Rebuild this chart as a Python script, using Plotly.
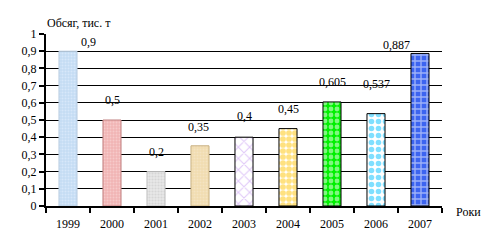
import plotly.graph_objects as go

years = ["1999", "2000", "2001", "2002", "2003", "2004", "2005", "2006", "2007"]
values = [0.9, 0.5, 0.2, 0.35, 0.4, 0.45, 0.605, 0.537, 0.887]
y_ticks = [0, 0.1, 0.2, 0.3, 0.4, 0.5, 0.6, 0.7, 0.8, 0.9, 1]
y_tick_text = ["0", "0,1", "0,2", "0,3", "0,4", "0,5", "0,6", "0,7", "0,8", "0,9", "1"]
y_title = "Обсяг, тис. т"
x_title = "Роки"

# styling (not data)
bg_colors = ["#c4dcf4", "#f0b4b4", "#e8e8e8", "#f0dcb0", "#ffffff", "#ffffff", "#00f000", "#ffffff", "#3c64f0"]
fg_colors = ["#eaf2ff", "#fbe0e0", "#c4c4c4", "#f8ecd4", "#c090f0", "#ffc400", "#ffffff", "#00c0ff", "#ffffff"]
shapes = [".", ".", ".", ".", "x", ".", ".", ".", "+"]
sizes = [3, 3, 3, 3, 8, 6, 6, 7, 6]
solid = [0.35, 0.35, 0.4, 0.35, 0.25, 0.72, 0.5, 0.5, 0.4]
line_cols = ["#b8cce0", "#c08080", "#c0c0c0", "#c8b080", "black", "black", "black", "black", "black"]
lbl_dx = [20, 0, 0, -2, 0, 0, 0, 0, -24]
lbl_dy = [9, 20, 20, 19, 21, 20, 20, 30, 8]

font = "Liberation Serif"

fig = go.Figure()
for i, (yr, v) in enumerate(zip(years, values)):
    fig.add_trace(go.Bar(
        x=[yr], y=[v], width=0.41,
        marker=dict(
            color=bg_colors[i],
            line=dict(color=line_cols[i], width=1),
            pattern=dict(shape=shapes[i], fgcolor=fg_colors[i], bgcolor=bg_colors[i],
                         size=sizes[i], solidity=solid[i], fillmode="overlay"),
        ),
        hoverinfo="skip",
    ))
    # x given as category index so the numeric-looking year is not read as a coordinate
    fig.add_annotation(x=i, y=v, text=str(v).replace(".", ","), showarrow=False,
                       xshift=lbl_dx[i], yshift=lbl_dy[i], yanchor="middle",
                       font=dict(family=font, size=12, color="black"))

fig.add_annotation(xref="paper", yref="paper", x=-0.003, y=1.0, yshift=11,
                   xanchor="left", yanchor="middle", text=y_title, showarrow=False,
                   font=dict(family=font, size=12, color="black"))
fig.add_annotation(xref="paper", yref="paper", x=1.0, y=0, xshift=12, yshift=-6,
                   xanchor="left", yanchor="middle", text=x_title, showarrow=False,
                   font=dict(family=font, size=12, color="black"))

fig.update_layout(
    width=492, height=247,
    margin=dict(l=46, r=50, t=34, b=41),
    paper_bgcolor="white", plot_bgcolor="white",
    showlegend=False, barmode="overlay",
    font=dict(family=font, size=12, color="black"),
)
fig.update_xaxes(
    type="category", categoryorder="array", categoryarray=years,
    range=[-0.5, len(years) - 0.5],
    showline=True, linecolor="black", linewidth=2,
    ticks="outside", tickson="boundaries", ticklen=5, tickwidth=2, tickcolor="black",
    ticklabelstandoff=6,
    showgrid=False, tickfont=dict(family=font, size=12), tickangle=0,
)
fig.update_yaxes(
    range=[0, 1], tickvals=y_ticks, ticktext=y_tick_text,
    showline=True, linecolor="black", linewidth=2,
    ticks="outside", ticklen=5, tickwidth=2, tickcolor="black",
    showgrid=True, gridcolor="black", gridwidth=1, zeroline=False,
    tickfont=dict(family=font, size=12),
)

fig.write_html("out.html")
